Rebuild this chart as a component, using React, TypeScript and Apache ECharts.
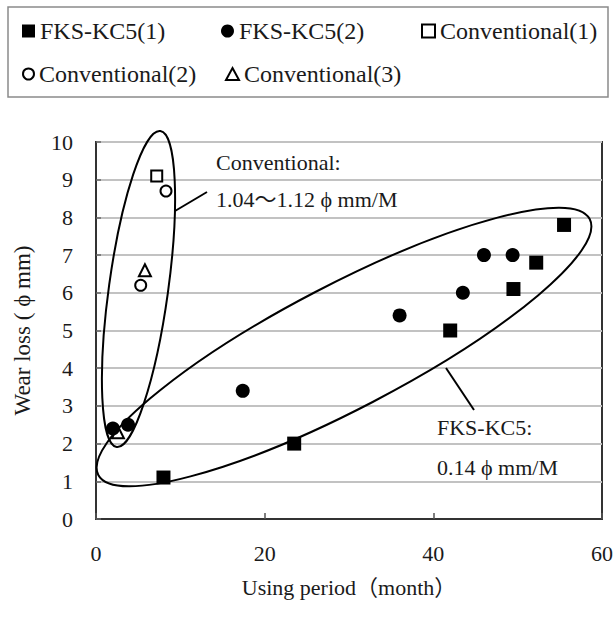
import React, { useEffect, useRef } from "react";
import * as echarts from "echarts";

// ---- data ----
const seriesNames = ["FKS-KC5(1)", "FKS-KC5(2)", "Conventional(1)", "Conventional(2)", "Conventional(3)"];
const fksKc5_1 = [[8.0, 1.1], [23.5, 2.0], [42.0, 5.0], [49.5, 6.1], [52.2, 6.8], [55.5, 7.8]];
const fksKc5_2 = [[2.0, 2.4], [3.8, 2.5], [17.4, 3.4], [36.0, 5.4], [43.5, 6.0], [46.0, 7.0], [49.4, 7.0]];
const conventional_1 = [[7.2, 9.1]];
const conventional_2 = [[8.3, 8.7], [5.3, 6.2]];
const conventional_3 = [[5.8, 6.6], [2.6, 2.3]];
const xRange = [0, 60];
const yRange = [0, 10];
const xTitle = "Using period（month）";
const yTitle = "Wear loss ( ϕ mm)";
const convNote = ["Conventional:", "1.04〜1.12 ϕ mm/M"];
const fksNote = ["FKS-KC5:", "0.14 ϕ mm/M"];

const FONT = '"Liberation Serif", "Times New Roman", "DejaVu Serif", "Noto Sans CJK JP", serif';
const TXT = "#1a1a1a";

export default function App() {
  const ref = useRef<HTMLDivElement>(null);
  useEffect(() => {
    if (!ref.current) return;
    const chart = echarts.init(ref.current, null, { renderer: "svg" });

    const open = { color: "#fff", borderColor: "#000", borderWidth: 2, opacity: 1 };
    const filled = { color: "#000", opacity: 1 };
    const legendPos = [
      { left: 22, top: 19, w: 13, h: 13 },
      { left: 221, top: 19, w: 13, h: 13 },
      { left: 421, top: 19, w: 13, h: 13 },
      { left: 22, top: 62, w: 11, h: 11 },
      { left: 225, top: 62, w: 13, h: 12 },
    ];

    const textEl = (s: string, x: number, y: number) => ({
      type: "text",
      x,
      y,
      silent: true,
      z: 100,
      style: {
        text: s,
        font: `22px ${FONT}`,
        fill: TXT,
        textAlign: "left",
        textVerticalAlign: "middle",
      },
    });

    const option: any = {
      animation: false,
      backgroundColor: "#fff",
      grid: {
        left: 96,
        top: 142,
        width: 506,
        height: 377,
        show: true,
        borderColor: "#333",
        borderWidth: 2,
        backgroundColor: "transparent",
      },
      legend: seriesNames.map((n, i) => ({
        data: [n],
        left: legendPos[i].left,
        top: legendPos[i].top,
        padding: 0,
        itemWidth: legendPos[i].w,
        itemHeight: legendPos[i].h,
        selectedMode: false,
        textStyle: { fontSize: 24, fontFamily: FONT, color: TXT, lineHeight: 24 },
      })),
      xAxis: {
        type: "value",
        min: xRange[0],
        max: xRange[1],
        interval: 20,
        name: xTitle,
        nameLocation: "middle",
        nameGap: 57,
        nameTextStyle: { fontSize: 22, fontFamily: FONT, color: TXT },
        axisLine: { show: true, lineStyle: { color: "#333", width: 2 } },
        axisTick: { show: true, inside: true, length: 6, lineStyle: { color: "#555", width: 1.5 } },
        axisLabel: { fontSize: 22, fontFamily: FONT, color: TXT, margin: 23 },
        splitLine: { show: false },
      },
      yAxis: {
        type: "value",
        min: yRange[0],
        max: yRange[1],
        interval: 1,
        name: yTitle,
        nameLocation: "middle",
        nameGap: 62,
        nameTextStyle: { fontSize: 23, fontFamily: FONT, color: TXT },
        axisLine: { show: true, lineStyle: { color: "#333", width: 2 } },
        axisTick: { show: true, inside: true, length: 5, lineStyle: { color: "#666", width: 1.5 } },
        axisLabel: { fontSize: 22, fontFamily: FONT, color: TXT, margin: 23 },
        splitLine: { show: true, lineStyle: { color: "#c2c2c2", width: 2 } },
      },
      series: [
        { name: seriesNames[0], type: "scatter", data: fksKc5_1, symbol: "rect", symbolSize: 14, itemStyle: filled, z: 5 },
        { name: seriesNames[1], type: "scatter", data: fksKc5_2, symbol: "circle", symbolSize: 14, itemStyle: filled, z: 5 },
        { name: seriesNames[2], type: "scatter", data: conventional_1, symbol: "rect", symbolSize: 11, itemStyle: open, z: 4 },
        { name: seriesNames[3], type: "scatter", data: conventional_2, symbol: "circle", symbolSize: 11, itemStyle: open, z: 4 },
        { name: seriesNames[4], type: "scatter", data: conventional_3, symbol: "triangle", symbolSize: 12, itemStyle: open, z: 3 },
      ],
      graphic: [
        {
          type: "rect",
          silent: true,
          shape: { x: 8, y: 7, width: 600, height: 90 },
          style: { fill: "none", stroke: "#8a8a8a", lineWidth: 1.5 },
        },
        {
          type: "ellipse",
          silent: true,
          x: 138.5,
          y: 289,
          rotation: -0.137,
          shape: { cx: 0, cy: 0, rx: 29.6, ry: 159.4 },
          style: { fill: "none", stroke: "#000", lineWidth: 2 },
          z: 50,
        },
        {
          type: "ellipse",
          silent: true,
          x: 344,
          y: 347,
          rotation: 0.48,
          shape: { cx: 0, cy: 0, rx: 277, ry: 62 },
          style: { fill: "none", stroke: "#000", lineWidth: 2 },
          z: 50,
        },
        {
          type: "line",
          silent: true,
          shape: { x1: 175, y1: 211, x2: 207, y2: 192 },
          style: { stroke: "#000", lineWidth: 2 },
          z: 50,
        },
        {
          type: "line",
          silent: true,
          shape: { x1: 446, y1: 368, x2: 474, y2: 410 },
          style: { stroke: "#000", lineWidth: 2 },
          z: 50,
        },
        textEl(convNote[0], 216, 162),
        textEl(convNote[1], 216, 199),
        textEl(fksNote[0], 437, 427),
        textEl(fksNote[1], 437, 467),
      ],
    };
    chart.setOption(option);
    return () => chart.dispose();
  }, []);
  return (
    <div
      ref={ref}
      style={{ position: "fixed", left: 0, top: 0, width: 616, height: 619, background: "#fff" }}
    />
  );
}
